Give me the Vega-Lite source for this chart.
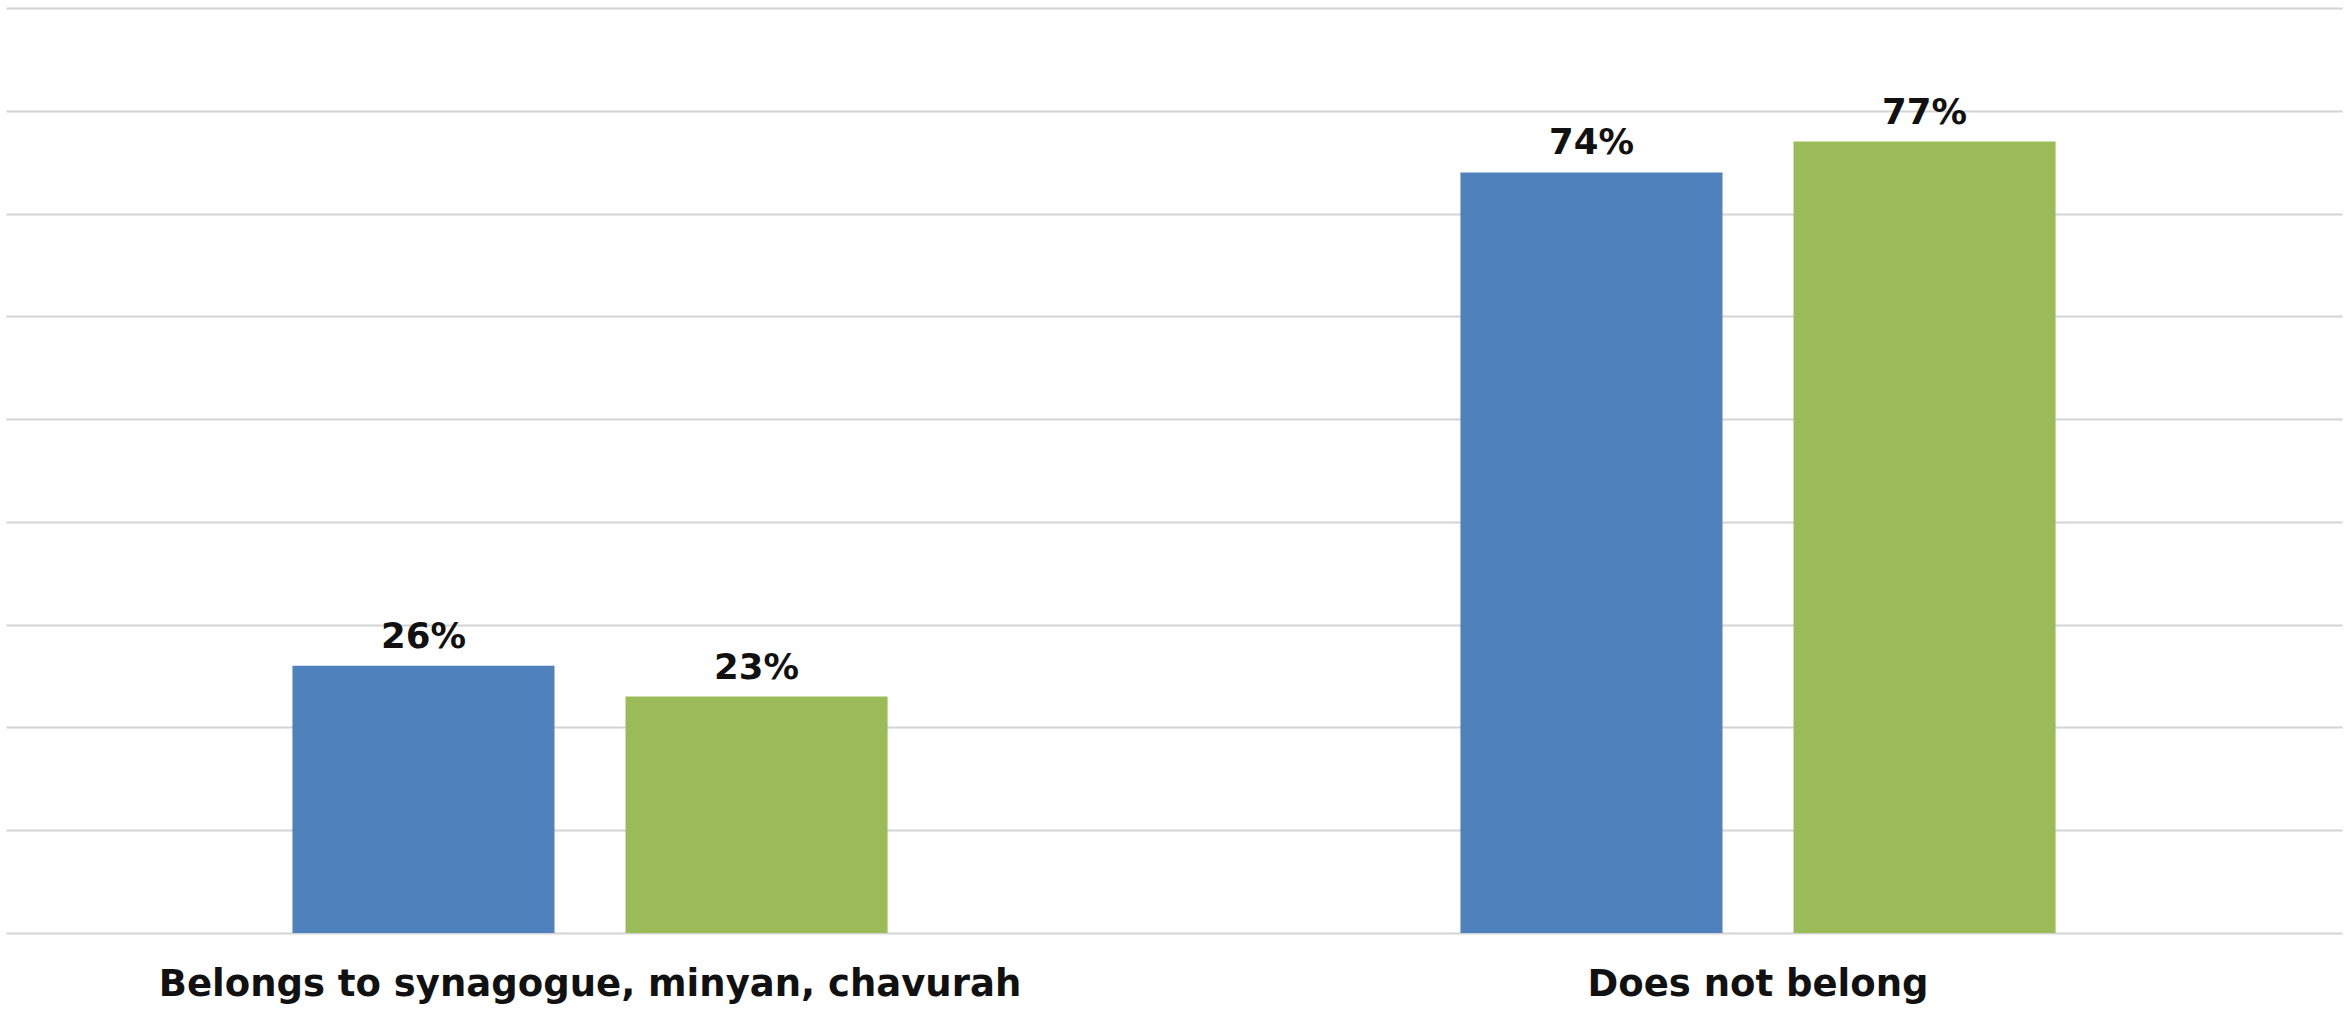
{
  "$schema": "https://vega.github.io/schema/vega-lite/v6.json",
  "autosize": {"type": "none"},
  "width": 2336,
  "height": 925,
  "padding": {"left": 6, "top": 8, "right": 2, "bottom": 77},
  "background": "white",
  "config": {"view": {"stroke": null}, "font": "DejaVu Sans"},
  "data": {
    "values": [
      {"category": "Belongs to synagogue, minyan, chavurah", "series": "Series 1", "value": 0.26},
      {"category": "Belongs to synagogue, minyan, chavurah", "series": "Series 2", "value": 0.23},
      {"category": "Does not belong", "series": "Series 1", "value": 0.74},
      {"category": "Does not belong", "series": "Series 2", "value": 0.77}
    ]
  },
  "encoding": {
    "x": {
      "field": "category", "type": "nominal", "sort": null,
      "scale": {"paddingInner": 0, "paddingOuter": 0},
      "axis": {"title": null, "labelAngle": 0, "domain": false, "ticks": false,
               "labelFont": "DejaVu Sans", "labelFontWeight": "bold", "labelFontSize": 37,
               "labelColor": "#111111", "labelPadding": 33, "labelLimit": 2000}
    },
    "xOffset": {
      "field": "series", "type": "nominal",
      "scale": {"paddingInner": 0.2132, "paddingOuter": 0.86}
    },
    "y": {
      "field": "value", "type": "quantitative",
      "scale": {"domain": [0, 0.9], "nice": false},
      "axis": {"title": null, "labels": false, "ticks": false, "domain": false,
               "values": [0, 0.1, 0.2, 0.3, 0.4, 0.5, 0.6, 0.7, 0.8, 0.9],
               "gridColor": "#d4d4d4", "gridWidth": 2}
    }
  },
  "layer": [
    {
      "mark": {"type": "bar"},
      "encoding": {
        "color": {"field": "series", "type": "nominal",
                  "scale": {"range": ["#4F81BD", "#9BBB59"]}, "legend": null}
      }
    },
    {
      "mark": {"type": "text", "baseline": "alphabetic", "dy": -18,
               "fontSize": 35.5, "fontWeight": "bold", "color": "#111111", "font": "DejaVu Sans"},
      "encoding": {
        "text": {"field": "value", "type": "quantitative", "format": ".0%"},
        "detail": {"field": "series"}
      }
    }
  ]
}
